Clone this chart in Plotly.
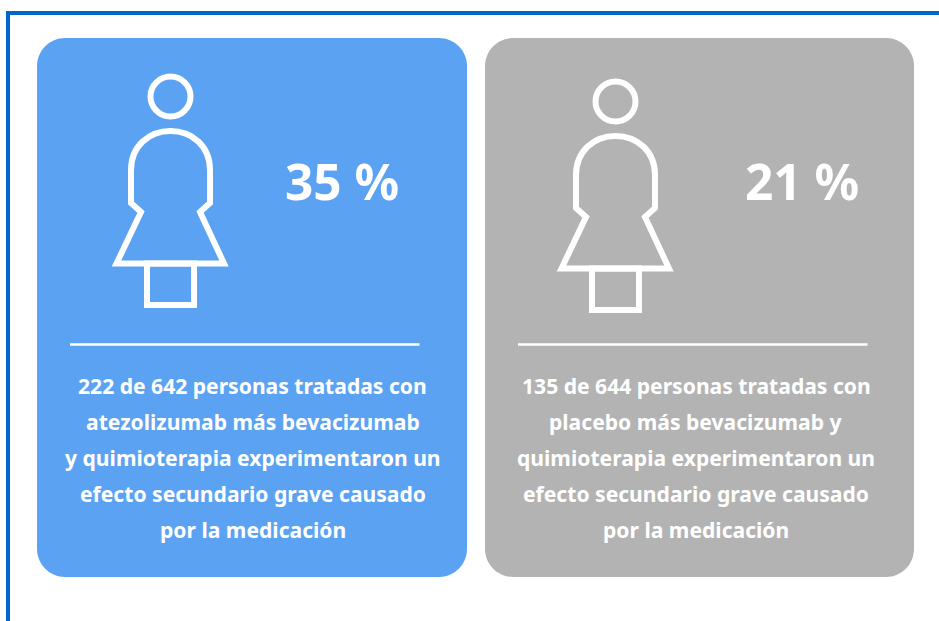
import plotly.graph_objects as go

percents = ["35 %", "21 %"]
counts = [222, 135]
totals = [642, 644]
treatments = [
    ["atezolizumab más bevacizumab", "y quimioterapia experimentaron un"],
    ["placebo más bevacizumab y", "quimioterapia experimentaron un"],
]
card_colors = ["#5BA3F2", "#B3B3B3"]
FONT = "Noto Sans"
cards = [(37, 467), (485, 914)]
icon_offset = [(0, 0), (445, 5)]
pct_x = [342, 802]
text_x = [252.5, 696]
rule = [(70, 419.5), (518, 867.5)]
line_y = [385, 421, 457, 493, 529]


def rr(x0, y0, x1, y1, r):
    k = r * 0.45
    return (f"M{x0+r},{y0} L{x1-r},{y0} C{x1-k},{y0} {x1},{y0+k} {x1},{y0+r} L{x1},{y1-r} C{x1},{y1-k} {x1-k},{y1} {x1-r},{y1} "
            f"L{x0+r},{y1} C{x0+k},{y1} {x0},{y1-k} {x0},{y1-r} L{x0},{y0+r} C{x0},{y0+k} {x0+k},{y0} {x0+r},{y0} Z")


shapes, ann = [], []
W = dict(color="white", width=6)
for i in range(2):
    x0, x1 = cards[i]
    shapes.append(dict(type="path", path=rr(x0, 38, x1, 577, 28), fillcolor=card_colors[i], line=dict(width=0), layer="below"))
    dx, dy = icon_offset[i]
    shapes.append(dict(type="circle", x0=150.5+dx, x1=190.5+dx, y0=76.5+dy, y1=116.5+dy, line=W))
    body = (f"M{131+dx},{170+dy} C{131+dx},{146+dy} {149+dx},{131+dy} {170.5+dx},{131+dy} "
            f"C{192+dx},{131+dy} {210+dx},{146+dy} {210+dx},{170+dy} L{210+dx},{203+dy} L{200+dx},{212+dy} "
            f"L{224+dx},{263.5+dy} L{116.5+dx},{263.5+dy} L{141+dx},{212+dy} L{131+dx},{203+dy} Z")
    shapes.append(dict(type="path", path=body, line=W))
    shapes.append(dict(type="rect", x0=147+dx, x1=194+dx, y0=263.5+dy, y1=305+dy, line=W))
    shapes.append(dict(type="line", x0=rule[i][0], x1=rule[i][1], y0=344.5, y1=344.5, line=dict(color="white", width=2.5)))
    ann.append(dict(x=pct_x[i], y=180.5, text=f"<b>{percents[i]}</b>", font=dict(size=49.5, color="white", family=FONT)))
    lines = [f"{counts[i]} de {totals[i]} personas tratadas con"] + treatments[i] + \
            ["efecto secundario grave causado", "por la medicación"]
    for y, t in zip(line_y, lines):
        ann.append(dict(x=text_x[i], y=y, text=f"<b>{t}</b>", font=dict(size=21.1, color="white", family=FONT)))

# frame
shapes.append(dict(type="line", x0=6, x1=939, y0=13, y1=13, line=dict(color="#0066CC", width=4)))
shapes.append(dict(type="line", x0=8, x1=8, y0=11, y1=621, line=dict(color="#0066CC", width=4)))
for a in ann:
    a.update(showarrow=False, xanchor="center", yanchor="middle", xref="x", yref="y")

fig = go.Figure()
fig.update_layout(
    width=939, height=621, margin=dict(l=0, r=0, t=0, b=0), paper_bgcolor="white", plot_bgcolor="white",
    xaxis=dict(range=[0, 939], visible=False, fixedrange=True),
    yaxis=dict(range=[621, 0], visible=False, fixedrange=True),
    shapes=shapes, annotations=ann, showlegend=False,
)
fig.write_html("out.html", config=dict(displayModeBar=False), post_script="document.body.style.margin='0';document.documentElement.style.overflow='hidden';")
